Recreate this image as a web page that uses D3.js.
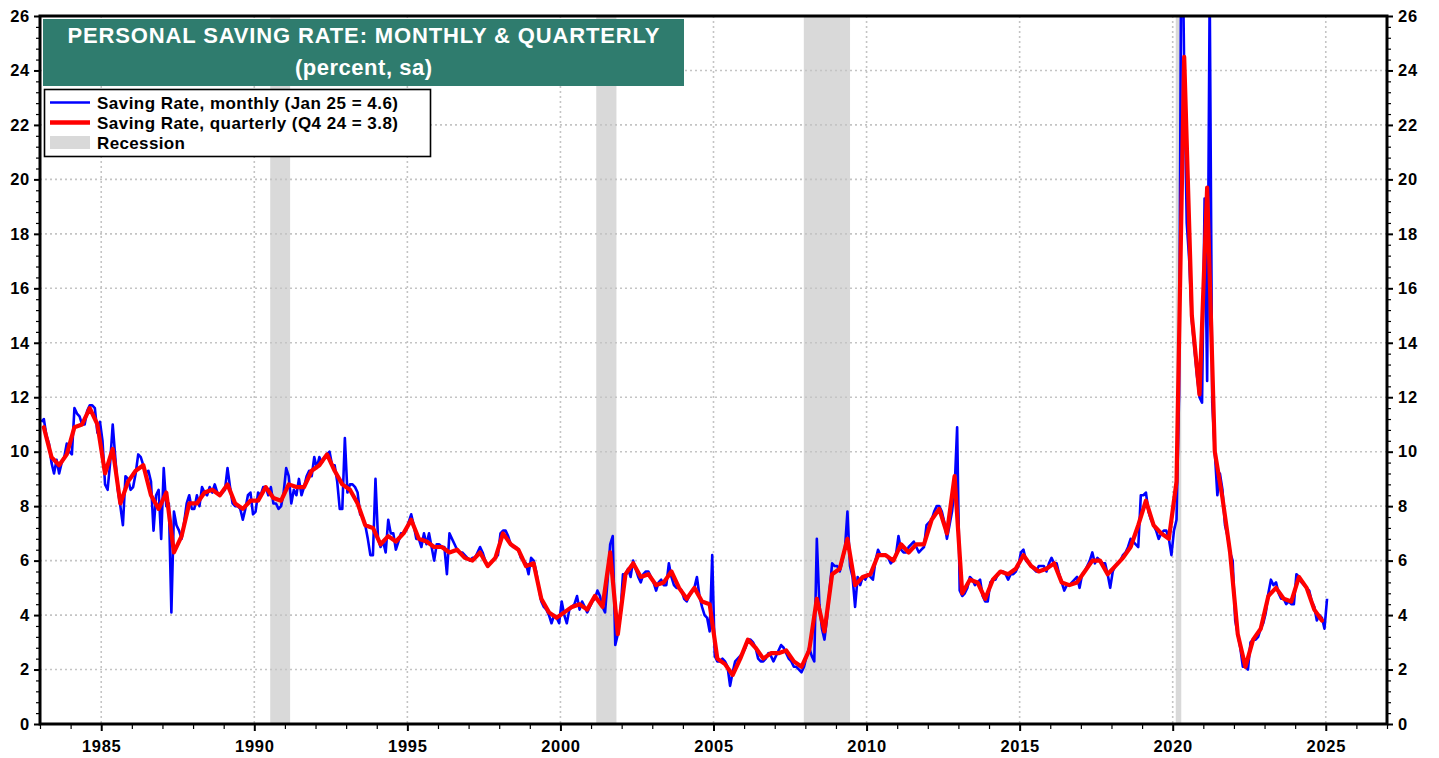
<!DOCTYPE html>
<html>
<head>
<meta charset="utf-8">
<title>Personal Saving Rate: Monthly &amp; Quarterly</title>
<script src="https://cdn.jsdelivr.net/npm/d3@7"></script>
<style>
  html, body { margin: 0; padding: 0; background: #fff; }
  svg { display: block; font-family: Arial, "Liberation Sans", sans-serif; }
  .tick text { font-weight: bold; font-size: 16.5px; letter-spacing: 0.7px; fill: #000; }
  .tick line { stroke: #000; }
</style>
</head>
<body>
<div id="chart"></div>
<script>
// monthly saving rate, Jan 1983 .. Jan 2025 (one row per year)
const monthlyRate = [
    11.1, 11.2, 10.6, 10.3, 9.6, 9.2, 9.7, 9.2, 9.6, 9.8, 10.3, 10.0,
    9.9, 11.6, 11.4, 11.3, 11.0, 11.0, 11.5, 11.7, 11.7, 11.6, 10.7, 11.1,
    10.4, 8.8, 8.6, 9.6, 11.0, 9.8, 8.6, 8.0, 7.3, 9.1, 9.0, 8.6,
    8.7, 9.2, 9.9, 9.8, 9.5, 9.2, 9.3, 8.9, 7.1, 8.4, 8.6, 6.8,
    9.4, 8.0, 8.1, 4.1, 7.8, 7.3, 7.1, 6.8, 7.4, 8.1, 8.4, 7.9,
    7.9, 8.4, 8.0, 8.7, 8.5, 8.4, 8.7, 8.5, 8.8, 8.5, 8.4, 8.5,
    8.6, 9.4, 8.7, 8.1, 8.0, 8.0, 7.9, 7.5, 7.9, 8.4, 8.5, 7.7,
    7.8, 8.5, 8.4, 8.7, 8.7, 8.4, 8.7, 8.1, 8.1, 7.9, 8.0, 8.5,
    9.4, 9.1, 8.1, 8.6, 8.4, 9.0, 8.4, 8.7, 9.1, 9.3, 9.1, 9.8,
    9.4, 9.8, 9.6, 9.8, 9.9, 10.0, 9.5, 9.5, 8.9, 7.9, 7.9, 10.5,
    8.5, 8.8, 8.8, 8.7, 8.5, 7.7, 7.6, 7.3, 6.8, 6.2, 6.2, 9.0,
    6.8, 6.5, 6.7, 6.3, 7.5, 7.0, 7.0, 6.4, 6.7, 7.0, 7.0, 7.1,
    7.4, 7.7, 7.3, 6.8, 6.8, 6.5, 7.0, 6.6, 7.0, 6.5, 6.0, 6.6,
    6.6, 6.5, 6.5, 5.5, 7.0, 6.8, 6.6, 6.4, 6.3, 6.3, 6.2, 6.1,
    6.0, 6.1, 6.1, 6.3, 6.5, 6.3, 6.0, 5.8, 5.9, 6.0, 6.1, 6.2,
    7.0, 7.1, 7.1, 6.9, 6.6, 6.5, 6.5, 6.4, 6.1, 6.0, 5.9, 5.5,
    6.1, 6.0, 5.6, 5.0, 4.5, 4.3, 4.2, 4.0, 3.7, 4.0, 3.9, 3.7,
    4.5, 4.0, 3.7, 4.2, 4.3, 4.4, 4.7, 4.2, 4.5, 4.3, 4.1, 4.3,
    4.5, 4.6, 4.9, 4.7, 4.3, 4.1, 5.3, 6.6, 6.9, 2.9, 3.3, 4.0,
    5.5, 5.5, 5.7, 5.4, 6.0, 5.7, 5.4, 5.2, 5.5, 5.6, 5.6, 5.4,
    5.2, 4.9, 5.2, 5.3, 5.1, 5.1, 5.9, 5.4, 5.1, 5.0, 5.0, 4.9,
    4.6, 4.5, 4.7, 4.9, 5.0, 5.4, 4.7, 4.3, 4.0, 3.9, 3.4, 6.2,
    2.5, 2.3, 2.3, 2.4, 2.3, 2.1, 1.4, 1.9, 2.3, 2.4, 2.5, 2.6,
    2.8, 3.1, 3.1, 3.0, 2.8, 2.4, 2.3, 2.3, 2.4, 2.6, 2.5, 2.3,
    2.5, 2.7, 2.9, 2.8, 2.6, 2.4, 2.3, 2.1, 2.1, 2.0, 1.9, 2.1,
    2.5, 2.8, 2.5, 2.3, 6.8, 4.4, 3.5, 3.1, 3.9, 4.9, 5.9, 5.8,
    5.8, 5.6, 6.0, 6.4, 7.8, 5.8, 5.4, 4.3, 5.4, 5.1, 5.4, 5.3,
    5.5, 5.4, 5.3, 6.0, 6.4, 6.2, 6.2, 6.2, 6.1, 5.9, 6.0, 6.2,
    6.9, 6.4, 6.3, 6.3, 6.5, 6.6, 6.7, 6.5, 6.3, 6.4, 6.5, 7.3,
    7.4, 7.5, 7.8, 8.0, 8.0, 7.8, 7.4, 6.8, 7.3, 7.8, 8.6, 10.9,
    4.9, 4.7, 4.8, 5.0, 5.4, 5.3, 5.1, 5.2, 5.3, 4.7, 4.5, 4.5,
    5.2, 5.3, 5.3, 5.5, 5.6, 5.6, 5.5, 5.3, 5.5, 5.5, 5.6, 5.8,
    6.3, 6.4, 6.0, 5.9, 5.8, 5.7, 5.6, 5.8, 5.8, 5.8, 5.6, 5.9,
    6.1, 5.9, 5.9, 5.5, 5.2, 4.9, 5.1, 5.1, 5.2, 5.3, 5.4, 5.0,
    5.5, 5.6, 5.8, 6.0, 6.3, 5.9, 6.1, 6.0, 5.9, 5.9, 5.5, 5.0,
    5.6, 5.8, 5.9, 6.0, 6.2, 6.3, 6.5, 6.8, 6.7, 6.6, 6.5, 8.4,
    8.4, 8.5, 7.8, 7.5, 7.3, 7.1, 6.8, 7.0, 7.1, 7.1, 6.8, 6.2,
    7.1, 7.5, 12.1, 31.8, 24.0, 18.4, 17.0, 14.8, 13.8, 12.8, 12.0, 11.8,
    19.3, 12.6, 27.0, 11.8, 10.0, 8.4, 9.2, 8.6, 7.3, 6.9, 6.3, 6.0,
    3.8, 3.3, 2.8, 2.1, 2.1, 2.0, 3.0, 3.1, 3.1, 3.2, 3.5, 3.7,
    4.1, 4.8, 5.3, 5.1, 5.2, 4.8, 4.6, 4.6, 4.4, 4.5, 4.4, 4.4,
    5.5, 5.4, 5.2, 5.1, 5.0, 4.9, 4.5, 4.3, 3.8, 4.0, 3.9, 3.5,
    4.6
];

// quarterly saving rate, Q1 1983 .. Q4 2024 (one row per year)
const quarterlyRate = [
    10.9, 9.8, 9.5, 9.9,   10.9, 11.0, 11.6, 11.0,   9.2, 10.1, 8.1, 8.9,
    9.3, 9.5, 8.4, 7.9,    8.5, 6.3, 6.9, 8.1,       8.1, 8.5, 8.6, 8.4,
    8.8, 8.1, 7.9, 8.2,    8.2, 8.7, 8.3, 8.2,       8.8, 8.7, 8.7, 9.3,
    9.5, 9.9, 9.3, 8.8,    8.6, 8.1, 7.3, 7.2,       6.6, 6.9, 6.7, 7.0,
    7.5, 6.8, 6.7, 6.5,    6.5, 6.3, 6.4, 6.1,       6.0, 6.3, 5.8, 6.1,
    7.0, 6.6, 6.4, 5.8,    5.9, 4.6, 4.1, 3.9,       4.1, 4.3, 4.4, 4.2,
    4.7, 4.3, 6.3, 3.3,    5.5, 5.9, 5.4, 5.5,       5.1, 5.2, 5.6, 5.0,
    4.6, 5.0, 4.5, 4.4,    2.4, 2.2, 1.8, 2.4,       3.1, 2.8, 2.4, 2.6,
    2.6, 2.7, 2.3, 2.1,    2.7, 4.6, 3.4, 5.5,       5.7, 6.8, 5.1, 5.4,
    5.5, 6.2, 6.2, 6.0,    6.6, 6.3, 6.6, 6.6,       7.5, 7.9, 7.0, 9.1,
    4.8, 5.3, 5.2, 4.6,    5.3, 5.6, 5.5, 5.7,       6.2, 5.8, 5.6, 5.7,
    5.9, 5.2, 5.1, 5.2,    5.6, 6.0, 6.0, 5.5,       5.8, 6.1, 6.5, 7.3,
    8.2, 7.3, 7.0, 6.8,    8.9, 24.5, 15.0, 12.1,    19.7, 10.0, 8.3, 6.3,
    3.3, 2.1, 3.1, 3.5,    4.7, 5.0, 4.6, 4.5,       5.4, 5.0, 4.2, 3.8
];

const startYear = 1983;
const recessions = [[1990.52, 1991.17], [2001.17, 2001.83], [2007.95, 2009.46], [2020.10, 2020.28]];
const yMajorTicks = d3.range(0, 27, 2);
const xMajorTicks = d3.range(1985, 2026, 5);
const titleLines = ['PERSONAL SAVING RATE: MONTHLY & QUARTERLY', '(percent, sa)'];
const legendLabels = ['Saving Rate, monthly (Jan 25 = 4.6)', 'Saving Rate, quarterly (Q4 24 = 3.8)', 'Recession'];

(function () {
    const Width = 1439, Height = 758,
        Left = 40, Right = 1387, Top = 16, Bottom = 724,
        Teal = '#2f7c6e', RecessionGrey = '#d9d9d9', GridGrey = '#c4c4c4';

    const x = d3.scaleLinear().domain([1983, 2027]).range([Left, Right]);
    const y = d3.scaleLinear().domain([0, 26]).range([Bottom, Top]);

    const monthly = monthlyRate.map((v, i) => ({ t: startYear + (i + 0.5) / 12, v: v }));
    const quarterly = quarterlyRate.map((v, i) => ({ t: startYear + (i * 3 + 1.5) / 12, v: v }));

    const svg = d3.select('#chart').append('svg')
        .attr('width', Width)
        .attr('height', Height);

    svg.append('defs').append('clipPath')
        .attr('id', 'plot-clip')
        .append('rect')
        .attr('x', Left).attr('y', Top)
        .attr('width', Right - Left).attr('height', Bottom - Top);

    // recession shading
    svg.append('g').selectAll('rect')
        .data(recessions)
        .join('rect')
        .attr('x', d => x(d[0]))
        .attr('width', d => x(d[1]) - x(d[0]))
        .attr('y', Top)
        .attr('height', Bottom - Top)
        .attr('fill', RecessionGrey);

    // dotted grid
    const grid = svg.append('g')
        .attr('stroke', GridGrey)
        .attr('stroke-width', 1.6)
        .attr('stroke-dasharray', '2,3');
    grid.selectAll('.hgrid')
        .data(yMajorTicks.filter(d => d > 0 && d < 26))
        .join('line')
        .attr('class', 'hgrid')
        .attr('x1', Left).attr('x2', Right)
        .attr('y1', d => y(d)).attr('y2', d => y(d));
    grid.selectAll('.vgrid')
        .data(xMajorTicks)
        .join('line')
        .attr('class', 'vgrid')
        .attr('x1', d => x(d)).attr('x2', d => x(d))
        .attr('y1', Top).attr('y2', Bottom);

    // series
    const line = d3.line()
        .x(d => x(d.t))
        .y(d => y(d.v));
    const lines = svg.append('g').attr('clip-path', 'url(#plot-clip)');
    lines.append('path')
        .datum(monthly)
        .attr('d', line)
        .attr('fill', 'none')
        .attr('stroke', '#0000ff')
        .attr('stroke-width', 2.6)
        .attr('stroke-linejoin', 'round');
    lines.append('path')
        .datum(quarterly)
        .attr('d', line)
        .attr('fill', 'none')
        .attr('stroke', '#ff0000')
        .attr('stroke-width', 4.2)
        .attr('stroke-linejoin', 'round')
        .attr('stroke-linecap', 'round');

    // axes
    const yMinor = d3.range(0, 66).filter(i => i % 5 !== 0).map(i => i * 0.4);
    const xMinor = d3.range(1983, 2028).filter(d => d % 5 !== 0);

    function axis(gen, tx, ty) {
        const g = svg.append('g')
            .attr('transform', `translate(${tx},${ty})`)
            .call(gen);
        g.select('.domain').remove();
        return g;
    }

    axis(d3.axisLeft(y).tickValues(yMajorTicks).tickSize(6).tickPadding(4).tickFormat(d3.format('d')), Left, 0)
        .selectAll('.tick line').attr('stroke-width', 2);
    axis(d3.axisLeft(y).tickValues(yMinor).tickSize(4).tickFormat(''), Left, 0)
        .selectAll('.tick line').attr('stroke-width', 1.2);
    axis(d3.axisRight(y).tickValues(yMajorTicks).tickSize(6).tickPadding(5).tickFormat(d3.format('d')), Right, 0)
        .selectAll('.tick line').attr('stroke-width', 2);
    axis(d3.axisRight(y).tickValues(yMinor).tickSize(4).tickFormat(''), Right, 0)
        .selectAll('.tick line').attr('stroke-width', 1.2);
    axis(d3.axisBottom(x).tickValues(xMajorTicks).tickSize(7).tickPadding(9).tickFormat(d3.format('d')), 0, Bottom)
        .selectAll('.tick line').attr('stroke-width', 2);
    axis(d3.axisBottom(x).tickValues(xMinor).tickSize(5).tickFormat(''), 0, Bottom)
        .selectAll('.tick line').attr('stroke-width', 1.2);

    svg.append('rect')
        .attr('x', Left).attr('y', Top)
        .attr('width', Right - Left).attr('height', Bottom - Top)
        .attr('fill', 'none')
        .attr('stroke', '#000')
        .attr('stroke-width', 3);

    // title box
    const title = svg.append('g');
    title.append('rect')
        .attr('x', 43).attr('y', 19)
        .attr('width', 641).attr('height', 67)
        .attr('fill', Teal);
    title.selectAll('text')
        .data(titleLines)
        .join('text')
        .attr('x', 363.5)
        .attr('y', (d, i) => 43 + i * 32)
        .attr('text-anchor', 'middle')
        .attr('fill', '#fff')
        .attr('font-weight', 'bold')
        .attr('font-size', 22)
        .attr('textLength', (d, i) => i ? 137 : 592)
        .attr('lengthAdjust', 'spacing')
        .text(d => d);

    // legend
    const legend = svg.append('g');
    legend.append('rect')
        .attr('x', 44.5).attr('y', 89.5)
        .attr('width', 386).attr('height', 67)
        .attr('fill', '#fff')
        .attr('stroke', '#000')
        .attr('stroke-width', 1.6);
    legend.append('line')
        .attr('x1', 50).attr('x2', 90).attr('y1', 102.5).attr('y2', 102.5)
        .attr('stroke', '#0000ff').attr('stroke-width', 2.6);
    legend.append('line')
        .attr('x1', 50).attr('x2', 90).attr('y1', 122.5).attr('y2', 122.5)
        .attr('stroke', '#ff0000').attr('stroke-width', 4.5);
    legend.append('rect')
        .attr('x', 50).attr('y', 136)
        .attr('width', 40).attr('height', 13)
        .attr('fill', RecessionGrey);
    legend.selectAll('text')
        .data(legendLabels)
        .join('text')
        .attr('x', 97)
        .attr('y', (d, i) => 108.5 + i * 20)
        .attr('font-weight', 'bold')
        .attr('font-size', 17)
        .attr('textLength', (d, i) => [301, 301, 88][i])
        .attr('lengthAdjust', 'spacing')
        .attr('fill', '#000')
        .text(d => d);
})();
</script>
</body>
</html>
